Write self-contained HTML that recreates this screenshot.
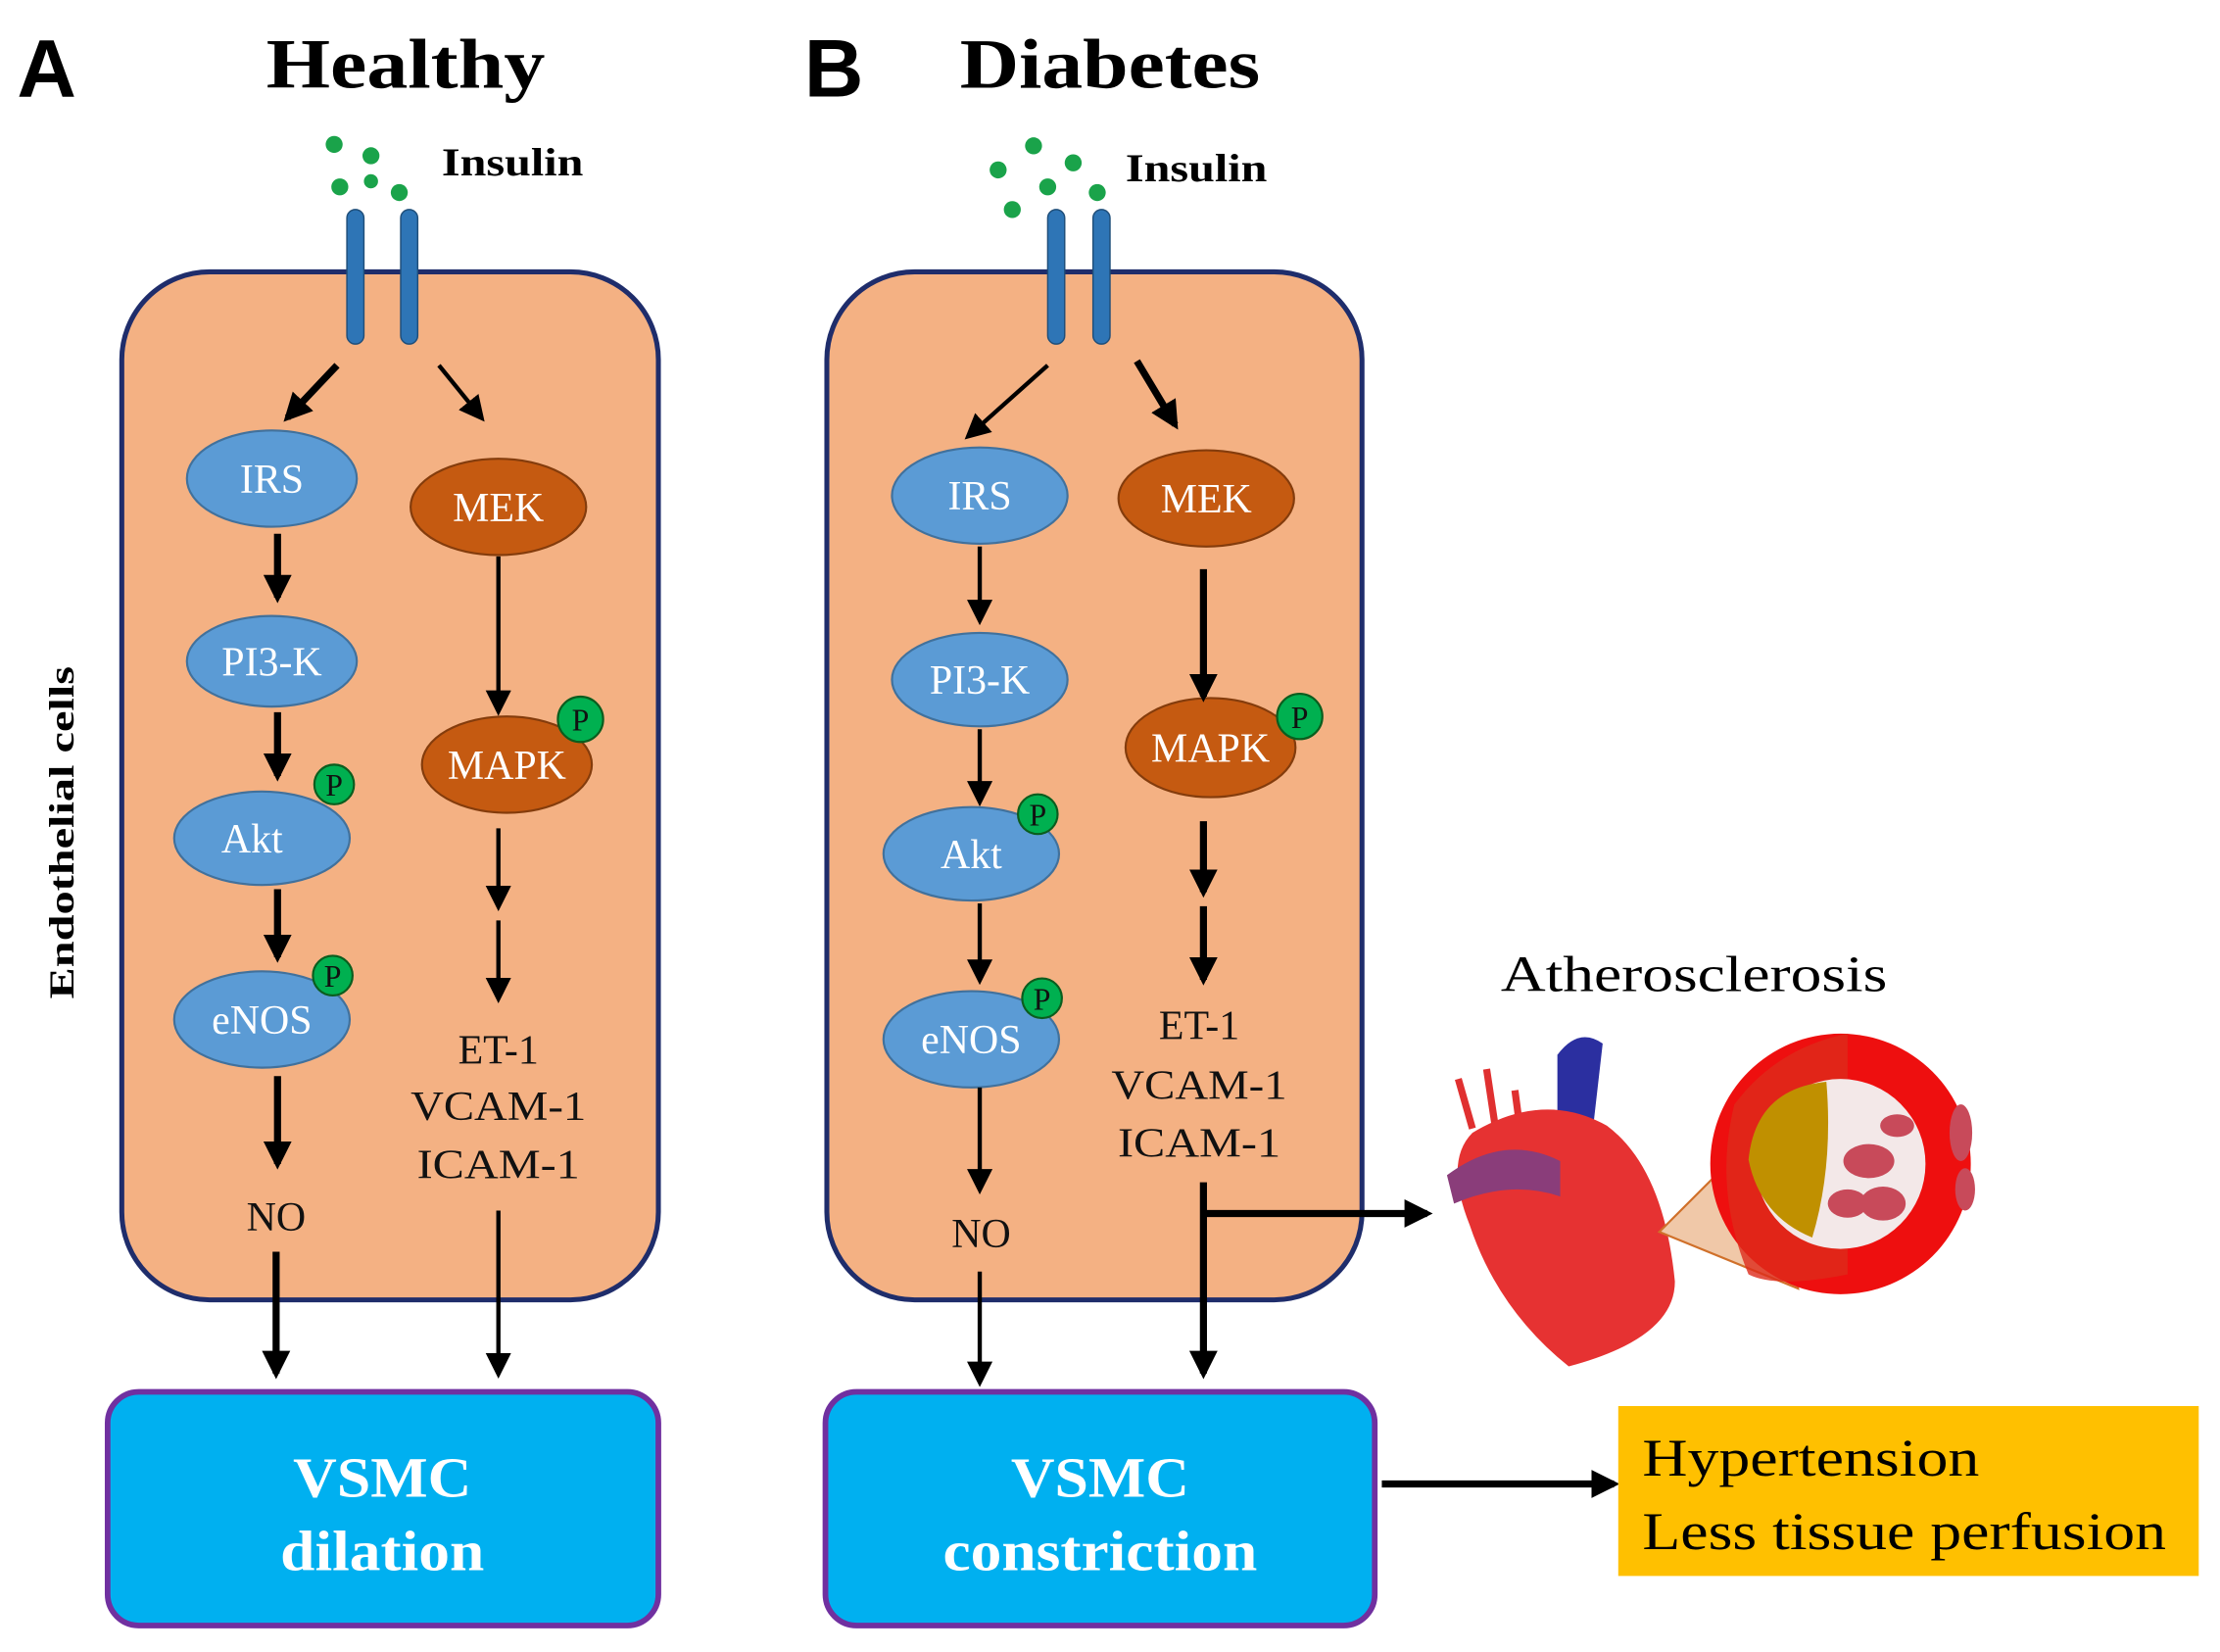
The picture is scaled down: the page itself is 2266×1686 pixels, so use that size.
<!DOCTYPE html>
<html><head><meta charset="utf-8"><style>
html,body{margin:0;padding:0;background:#fff;width:2266px;height:1686px;overflow:hidden}
svg{display:block}
.s{font-family:"Liberation Serif",serif}
.w{fill:#fff;font-size:29px;text-anchor:middle;font-family:"Liberation Serif",serif}
.b{fill:#111;font-size:29px;text-anchor:middle;font-family:"Liberation Serif",serif}
</style></head><body>
<svg width="2266" height="1686" viewBox="0 0 1568 1166.7" xmlns="http://www.w3.org/2000/svg">
<defs>
<marker id="ah" viewBox="0 0 10 10" refX="8" refY="5" markerWidth="4" markerHeight="4" orient="auto-start-reverse"><path d="M0,0L10,5L0,10z" fill="#000"/></marker>
<marker id="at" viewBox="0 0 10 10" refX="8" refY="5" markerWidth="6" markerHeight="6" orient="auto"><path d="M0,0L10,5L0,10z" fill="#000"/></marker>
</defs>
<text x="12" y="68" font-family="Liberation Sans,sans-serif" font-weight="bold" font-size="58">A</text>
<text x="188" y="62" class="s" font-weight="bold" font-size="50" textLength="197" lengthAdjust="spacingAndGlyphs">Healthy</text>
<text x="568" y="68" font-family="Liberation Sans,sans-serif" font-weight="bold" font-size="58">B</text>
<text x="678" y="62" class="s" font-weight="bold" font-size="50" textLength="212" lengthAdjust="spacingAndGlyphs">Diabetes</text>
<g fill="#1aa34a">
<circle cx="236" cy="102" r="6"/><circle cx="262" cy="110" r="6"/><circle cx="240" cy="132" r="6"/><circle cx="282" cy="136" r="6"/><circle cx="262" cy="128" r="5"/>
<circle cx="705" cy="120" r="6"/><circle cx="730" cy="103" r="6"/><circle cx="758" cy="115" r="6"/><circle cx="740" cy="132" r="6"/><circle cx="715" cy="148" r="6"/><circle cx="775" cy="136" r="6"/>
</g>
<text x="312" y="124" class="s" font-weight="bold" font-size="28" textLength="100" lengthAdjust="spacingAndGlyphs">Insulin</text>
<text x="795" y="128" class="s" font-weight="bold" font-size="28" textLength="100" lengthAdjust="spacingAndGlyphs">Insulin</text>
<text transform="translate(52,588) rotate(-90)" text-anchor="middle" class="s" font-weight="bold" font-size="25" textLength="235" lengthAdjust="spacingAndGlyphs">Endothelial cells</text>
<rect x="86" y="192" width="379" height="726" rx="62" fill="#f4b183" stroke="#1f2d6b" stroke-width="3.5"/>
<rect x="584" y="192" width="378" height="726" rx="62" fill="#f4b183" stroke="#1f2d6b" stroke-width="3.5"/>
<g fill="#2e75b6" stroke="#1f4e79" stroke-width="1">
<rect x="245" y="148" width="12" height="95" rx="6"/><rect x="283" y="148" width="12" height="95" rx="6"/>
<rect x="740" y="148" width="12" height="95" rx="6"/><rect x="772" y="148" width="12" height="95" rx="6"/>
</g>
<g stroke="#41719c" stroke-width="1.5" fill="#5b9bd5">
<ellipse cx="192" cy="338" rx="60" ry="34"/><ellipse cx="192" cy="467" rx="60" ry="32"/><ellipse cx="185" cy="592" rx="62" ry="33"/><ellipse cx="185" cy="720" rx="62" ry="34"/>
<ellipse cx="692" cy="350" rx="62" ry="34"/><ellipse cx="692" cy="480" rx="62" ry="33"/><ellipse cx="686" cy="603" rx="62" ry="33"/><ellipse cx="686" cy="734" rx="62" ry="34"/>
</g>
<g stroke="#843c0c" stroke-width="1.5" fill="#c55a11">
<ellipse cx="352" cy="358" rx="62" ry="34"/><ellipse cx="358" cy="540" rx="60" ry="34"/>
<ellipse cx="852" cy="352" rx="62" ry="34"/><ellipse cx="855" cy="528" rx="60" ry="35"/>
</g>
<g fill="#00b050" stroke="#0b5d1e" stroke-width="1.5">
<circle cx="236" cy="554" r="14"/><circle cx="235" cy="689" r="14"/><circle cx="410" cy="508" r="16"/>
<circle cx="733" cy="575" r="14"/><circle cx="736" cy="705" r="14"/><circle cx="918" cy="506" r="16"/>
</g>
<g>
<text x="236" y="562" class="b" style="font-size:22px">P</text><text x="235" y="697" class="b" style="font-size:22px">P</text><text x="410" y="516" class="b" style="font-size:22px">P</text>
<text x="733" y="583" class="b" style="font-size:22px">P</text><text x="736" y="713" class="b" style="font-size:22px">P</text><text x="918" y="514" class="b" style="font-size:22px">P</text>
</g>
<text x="192" y="348" class="w">IRS</text><text x="192" y="477" class="w">PI3-K</text><text x="178" y="602" class="w">Akt</text><text x="185" y="730" class="w">eNOS</text>
<text x="352" y="368" class="w">MEK</text><text x="358" y="550" class="w">MAPK</text>
<text x="692" y="360" class="w">IRS</text><text x="692" y="490" class="w">PI3-K</text><text x="686" y="613" class="w">Akt</text><text x="686" y="744" class="w">eNOS</text>
<text x="852" y="362" class="w">MEK</text><text x="855" y="538" class="w">MAPK</text>
<text x="352" y="751" class="b">ET-1</text><text x="352" y="791" class="b" textLength="124" lengthAdjust="spacingAndGlyphs">VCAM-1</text><text x="352" y="832" class="b" textLength="115" lengthAdjust="spacingAndGlyphs">ICAM-1</text>
<text x="195" y="869" class="b">NO</text>
<text x="847" y="734" class="b">ET-1</text><text x="847" y="776" class="b" textLength="124" lengthAdjust="spacingAndGlyphs">VCAM-1</text><text x="847" y="817" class="b" textLength="115" lengthAdjust="spacingAndGlyphs">ICAM-1</text>
<text x="693" y="881" class="b">NO</text>
<g stroke="#000" fill="none">
<g stroke-width="5" marker-end="url(#ah)">
<line x1="238" y1="258" x2="203" y2="295"/>
<line x1="196" y1="377" x2="196" y2="422"/><line x1="196" y1="503" x2="196" y2="548"/><line x1="196" y1="628" x2="196" y2="676"/>
<line x1="196" y1="760" x2="196" y2="822"/><line x1="195" y1="884" x2="195" y2="970"/>
<line x1="803" y1="255" x2="830" y2="300"/>
<line x1="850" y1="402" x2="850" y2="492"/><line x1="850" y1="580" x2="850" y2="630"/><line x1="850" y1="640" x2="850" y2="692"/>
<line x1="850" y1="835" x2="850" y2="970"/>
<line x1="848" y1="857" x2="1008" y2="857"/>
<line x1="976" y1="1048" x2="1140" y2="1048"/>
</g>
<g stroke-width="3" marker-end="url(#at)">
<line x1="310" y1="258" x2="340" y2="295"/>
<line x1="352" y1="393" x2="352" y2="502"/><line x1="352" y1="585" x2="352" y2="640"/><line x1="352" y1="650" x2="352" y2="705"/>
<line x1="352" y1="855" x2="352" y2="970"/>
<line x1="740" y1="258" x2="684" y2="308"/>
<line x1="692" y1="386" x2="692" y2="438"/><line x1="692" y1="515" x2="692" y2="566"/><line x1="692" y1="638" x2="692" y2="692"/>
<line x1="692" y1="768" x2="692" y2="840"/><line x1="692" y1="898" x2="692" y2="976"/>
</g>
</g>
<rect x="76" y="983" width="389" height="165" rx="22" fill="#00b0f0" stroke="#7030a0" stroke-width="4"/>
<rect x="583" y="983" width="388" height="165" rx="22" fill="#00b0f0" stroke="#7030a0" stroke-width="4"/>
<text x="270" y="1057" class="w" font-weight="bold" style="font-size:40px" textLength="126" lengthAdjust="spacingAndGlyphs">VSMC</text>
<text x="270" y="1109" class="w" font-weight="bold" style="font-size:40px" textLength="144" lengthAdjust="spacingAndGlyphs">dilation</text>
<text x="777" y="1057" class="w" font-weight="bold" style="font-size:40px" textLength="126" lengthAdjust="spacingAndGlyphs">VSMC</text>
<text x="777" y="1109" class="w" font-weight="bold" style="font-size:40px" textLength="222" lengthAdjust="spacingAndGlyphs">constriction</text>
<rect x="1143" y="993" width="410" height="120" fill="#ffc000"/>
<text x="1160" y="1042" class="s" font-size="37" textLength="238" lengthAdjust="spacingAndGlyphs">Hypertension</text>
<text x="1160" y="1094" class="s" font-size="37" textLength="370" lengthAdjust="spacingAndGlyphs">Less tissue perfusion</text>
<text x="1060" y="700" class="s" font-size="36" textLength="273" lengthAdjust="spacingAndGlyphs">Atherosclerosis</text>
<!-- heart -->
<path d="M1100,745 q15,-20 32,-8 l-8,70 l-24,0z" fill="#2b2fa0"/>
<path d="M1030,762 l10,35 M1050,755 l6,40 M1070,770 l4,30" stroke="#e03030" stroke-width="5"/>
<path d="M1040,800 q50,-30 95,-5 q40,30 48,110 q0,40 -75,60 q-50,-40 -70,-100 q-18,-45 2,-65z" fill="#e63232"/>
<path d="M1022,830 q40,-30 80,-10 l0,25 q-35,-12 -75,5z" fill="#8a3d7a"/>
<path d="M1172,870 L1252,790 L1270,910z" fill="#f0c8a8" stroke="#d0702a" stroke-width="1.5"/>
<circle cx="1300" cy="822" r="92" fill="#ee0f0f"/>
<path d="M1225,780 q30,-40 80,-50 v170 q-50,10 -70,0 q-25,-60 -10,-120z" fill="#dd2a1a" opacity="0.8"/>
<circle cx="1300" cy="822" r="60" fill="#f3e8e8"/>
<path d="M1290,764 q-50,5 -55,55 q8,40 45,55 q15,-50 10,-110z" fill="#c09000"/>
<g fill="#c84a5a"><ellipse cx="1320" cy="820" rx="18" ry="12"/><ellipse cx="1330" cy="850" rx="16" ry="12"/><ellipse cx="1305" cy="850" rx="14" ry="10"/><ellipse cx="1340" cy="795" rx="12" ry="8"/><ellipse cx="1385" cy="800" rx="8" ry="20"/><ellipse cx="1388" cy="840" rx="7" ry="15"/></g>
</svg>
</body></html>
